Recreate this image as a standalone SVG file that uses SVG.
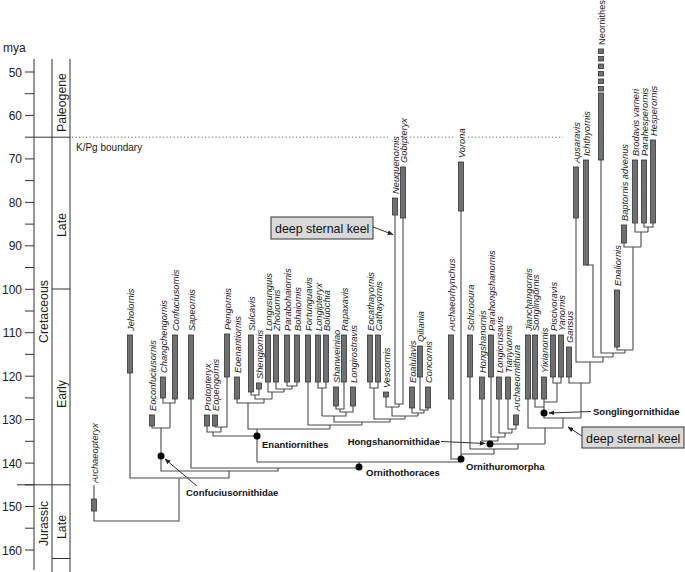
<svg xmlns="http://www.w3.org/2000/svg" width="685" height="572" viewBox="0 0 685 572">
<defs>
<style>
.ax{stroke:#333;stroke-width:1;fill:none}
.tk{font-family:"Liberation Sans",Arial,sans-serif;font-size:12px;fill:#222;text-anchor:end}
.per{font-family:"Liberation Sans",Arial,sans-serif;font-size:12.3px;fill:#222;text-anchor:middle}
.ln{stroke:#4a4a4a;stroke-width:1.1;fill:none}
.bar{fill:#707070;stroke:#333;stroke-width:0.8}
.lab{font-family:"Liberation Sans",Arial,sans-serif;font-size:9.3px;font-style:italic;fill:#222}
.labn{font-family:"Liberation Sans",Arial,sans-serif;font-size:9.3px;fill:#222}
.cl{font-family:"Liberation Sans",Arial,sans-serif;font-size:9.5px;font-weight:bold;fill:#111}
.dot{fill:#000}
.box{fill:#d9d9d9;stroke:#333;stroke-width:1}
.boxt{font-family:"Liberation Sans",Arial,sans-serif;font-size:12.4px;fill:#111}
.arr{stroke:#333;stroke-width:1;fill:none;marker-end:url(#ah)}
</style>
<marker id="ah" viewBox="0 0 10 10" refX="9" refY="5" markerWidth="6" markerHeight="6" markerUnits="userSpaceOnUse" orient="auto"><path d="M0,1 L10,5 L0,9 Z" fill="#222"/></marker>
</defs>
<rect width="685" height="572" fill="#fff"/>
<g id="axis">
<text x="3" y="52" style="font-family:'Liberation Sans',Arial,sans-serif;font-size:12px;fill:#222">mya</text>
<path class="ax" d="M34 59 V570 M52 59 V572 M70 59 V572 M34 137.2 H70 M17 484.8 H70 M52 289 H70 M52 558.5 H70"/>
<path class="ax" d="M25 72 H34 M25 93.7 H34 M25 115.4 H34 M25 137.2 H34 M25 158.9 H34 M25 180.6 H34 M25 202.4 H34 M25 224.1 H34 M25 245.8 H34 M25 267.5 H34 M25 289.3 H34 M25 311 H34 M25 332.7 H34 M25 354.4 H34 M25 376.2 H34 M25 397.9 H34 M25 419.6 H34 M25 441.3 H34 M25 463.1 H34 M25 484.8 H34 M25 506.5 H34 M25 528.2 H34 M25 550 H34"/>
<text class="tk" x="22" y="76.5">50</text>
<text class="tk" x="22" y="119.9">60</text>
<text class="tk" x="22" y="163.4">70</text>
<text class="tk" x="22" y="206.9">80</text>
<text class="tk" x="22" y="250.3">90</text>
<text class="tk" x="22" y="293.8">100</text>
<text class="tk" x="22" y="337.2">110</text>
<text class="tk" x="22" y="380.7">120</text>
<text class="tk" x="22" y="424.1">130</text>
<text class="tk" x="22" y="467.6">140</text>
<text class="tk" x="22" y="511">150</text>
<text class="tk" x="22" y="554.5">160</text>
<text class="per" transform="translate(65.5,102.5) rotate(-90)">Paleogene</text>
<text class="per" transform="translate(65.5,225) rotate(-90)">Late</text>
<text class="per" transform="translate(47.5,311.5) rotate(-90)">Cretaceous</text>
<text class="per" transform="translate(65.5,394) rotate(-90)">Early</text>
<text class="per" transform="translate(47.5,523.5) rotate(-90)">Jurassic</text>
<text class="per" transform="translate(65.5,527) rotate(-90)">Late</text>
<path d="M72 137.2 H388 M410 137.2 H455 M468 137.2 H563" stroke="#666" stroke-width="1" stroke-dasharray="1.2 2.3" fill="none"/>
<text x="76" y="151" style="font-family:'Liberation Sans',Arial,sans-serif;font-size:10px;fill:#222">K/Pg boundary</text>
</g>
<g id="connectors">
<path class="ln" d="M94 485 V499 M94 511 V521 H179 V478 M130 373 V478 H229 V471 M152 426 V428 H170 M163 398 V403 H175 V399 M170 403 V428 M161 428 V471 H278 V468 M191 399 V468 H359 V462 M257 462 H461"/>
<path class="ln" d="M257 429 V462 M213 436 H257 M207 426 V432 H221 M215 426 V427 H227 V377 M221 427 V432 M213 432 V436"/>
<path class="ln" d="M251 392 V395 H259 V389 M255 395 V399 H272 M287 382 V386 H297 V382 M292 386 V389 M276 382 V389 H292 M284 389 V392 M268 382 V392 H284 M272 392 V399 M264 399 V403 M237 399 V403 H264 M248 403 V429 H330"/>
<path class="ln" d="M318 382 V388 H326 V382 M322 388 V416 M336 406 V409 H344 V382 M340 409 V412 M353 406 V412 H340 M346 412 V416 H322 M334 416 V422 H390 M370 382 V388 H378 V382 M374 388 V419 H405 M395 215 V404 H403 V218 M399 404 V407 M386 397 V407 H399 M392 407 V416 H418 M420 377 V410 H428 V408 M424 410 V413 M412 408 V413 H424 M418 413 V416 M405 416 V419 M390 419 V422 M362 422 V425 M308 382 V425 H362 M330 425 V429"/>
<path class="ln" d="M451 399 V459 H461 M461 211 V462 M461 454 H494 M470 377 V449 H518 M494 449 V454 M482 399 V441 H498 M491 377 V437 H505 M499 399 V433 H512 M508 399 V429 H516 V425 M512 429 V433 M505 433 V437 M498 437 V441 M490 441 V444 H545 M518 444 V449 M528 399 V428 H563 M545 428 V444"/>
<path class="ln" d="M553 377 V383 H561 V377 M557 383 V402 H544 M544 399 V418 H581 M535 399 V407 H544 M563 418 V428 M569 377 V383 H590 M581 383 V418 M576 218 V362 H603 M590 362 V383 M586 265 H593 V357 H613 M603 357 V362 M601 160 V353 H625 M613 353 V357 M617 347 V350 H633 M625 350 V353 M624 243 V247 H641 M633 247 V350 M635 223 V232 H648 M641 232 V247 M644 223 V227 H653 V223 M648 227 V232"/>
<path class="arr" d="M197 486 L165 459"/>
<path class="arr" d="M441 441.5 L485 443.5"/>
<path class="arr" d="M591 411.5 L549 413"/>
<path class="arr" d="M373 227 L393 234.5"/>
<path class="arr" d="M582 436 L568 427"/>
</g>
<g id="n-confuciusornithidae"><circle class="dot" cx="161" cy="456" r="3.5"/><text class="cl" x="186" y="496">Confuciusornithidae</text></g>
<g id="n-enantiornithes"><circle class="dot" cx="257" cy="436" r="3.5"/><text class="cl" x="262" y="447.5">Enantiornithes</text></g>
<g id="n-ornithothoraces"><circle class="dot" cx="359" cy="467" r="3.5"/><text class="cl" x="366" y="476">Ornithothoraces</text></g>
<g id="n-ornithuromorpha"><circle class="dot" cx="461" cy="459" r="3.5"/><text class="cl" x="466" y="470">Ornithuromorpha</text></g>
<g id="n-hongshanornithidae"><circle class="dot" cx="490" cy="444" r="3.5"/><text class="cl" x="440" y="444.5" text-anchor="end">Hongshanornithidae</text></g>
<g id="n-songlingornithidae"><circle class="dot" cx="544" cy="413" r="3.5"/><text class="cl" x="593" y="414.5">Songlingornithidae</text></g>
<g id="box-keel-1"><rect class="box" x="271" y="217" width="102" height="22"/><text class="boxt" x="275" y="233">deep sternal keel</text></g>
<g id="box-keel-2"><rect class="box" x="582" y="427" width="102" height="21"/><text class="boxt" x="586" y="442.5">deep sternal keel</text></g>
<g id="taxa">
<g id="t-archaeopteryx"><rect class="bar" x="91.5" y="499" width="5" height="12"/><text class="lab" transform="translate(97.5,483) rotate(-90)">Archaeopteryx</text></g>
<g id="t-jeholornis"><rect class="bar" x="127.5" y="335" width="5" height="38"/><text class="lab" transform="translate(133.5,331) rotate(-90)">Jeholornis</text></g>
<g id="t-eoconfuciusornis"><rect class="bar" x="149.5" y="415" width="5" height="11"/><text class="lab" transform="translate(155.5,411) rotate(-90)">Eoconfuciusornis</text></g>
<g id="t-changchengornis"><rect class="bar" x="160.5" y="377" width="5" height="21"/><text class="lab" transform="translate(166.5,373) rotate(-90)">Changchengornis</text></g>
<g id="t-confuciusornis"><rect class="bar" x="172.5" y="335" width="5" height="64"/><text class="lab" transform="translate(178.5,331) rotate(-90)">Confuciusornis</text></g>
<g id="t-sapeornis"><rect class="bar" x="188.5" y="335" width="5" height="64"/><text class="lab" transform="translate(194.5,331) rotate(-90)">Sapeornis</text></g>
<g id="t-protopteryx"><rect class="bar" x="204.5" y="415" width="5" height="11"/><text class="lab" transform="translate(210.5,411) rotate(-90)">Protopteryx</text></g>
<g id="t-eopengornis"><rect class="bar" x="212.5" y="415" width="5" height="11"/><text class="lab" transform="translate(218.5,411) rotate(-90)">Eopengornis</text></g>
<g id="t-pengornis"><rect class="bar" x="224.5" y="334" width="5" height="43"/><text class="lab" transform="translate(230.5,330) rotate(-90)">Pengornis</text></g>
<g id="t-eoenantiornis"><rect class="bar" x="234.5" y="377" width="5" height="22"/><text class="lab" transform="translate(240.5,373) rotate(-90)">Eoenantiornis</text></g>
<g id="t-sulcavis"><rect class="bar" x="248.5" y="335" width="5" height="57"/><text class="lab" transform="translate(254.5,331) rotate(-90)">Sulcavis</text></g>
<g id="t-shengiornis"><rect class="bar" x="256.5" y="383" width="5" height="6"/><text class="lab" transform="translate(262.5,379) rotate(-90)">Shengiornis</text></g>
<g id="t-longusunguis"><rect class="bar" x="265.5" y="335" width="5" height="47"/><text class="lab" transform="translate(271.5,331) rotate(-90)">Longusunguis</text></g>
<g id="t-zhouornis"><rect class="bar" x="273.5" y="335" width="5" height="47"/><text class="lab" transform="translate(279.5,331) rotate(-90)">Zhouornis</text></g>
<g id="t-parabohaiornis"><rect class="bar" x="284.5" y="335" width="5" height="47"/><text class="lab" transform="translate(290.5,331) rotate(-90)">Parabohaiornis</text></g>
<g id="t-bohaiornis"><rect class="bar" x="294.5" y="335" width="5" height="47"/><text class="lab" transform="translate(300.5,331) rotate(-90)">Bohaiornis</text></g>
<g id="t-fortunguavis"><rect class="bar" x="305.5" y="335" width="5" height="47"/><text class="lab" transform="translate(311.5,331) rotate(-90)">Fortunguavis</text></g>
<g id="t-longipteryx"><rect class="bar" x="315.5" y="335" width="5" height="47"/><text class="lab" transform="translate(321.5,331) rotate(-90)">Longipteryx</text></g>
<g id="t-boluochia"><rect class="bar" x="323.5" y="335" width="5" height="47"/><text class="lab" transform="translate(329.5,331) rotate(-90)">Boluochia</text></g>
<g id="t-shanweiniao"><rect class="bar" x="333.5" y="387" width="5" height="19"/><text class="lab" transform="translate(339.5,383) rotate(-90)">Shanweiniao</text></g>
<g id="t-rapaxavis"><rect class="bar" x="341.5" y="335" width="5" height="47"/><text class="lab" transform="translate(347.5,331) rotate(-90)">Rapaxavis</text></g>
<g id="t-longirostravis"><rect class="bar" x="350.5" y="387" width="5" height="19"/><text class="lab" transform="translate(356.5,383) rotate(-90)">Longirostravis</text></g>
<g id="t-eocathayornis"><rect class="bar" x="367.5" y="335" width="5" height="47"/><text class="lab" transform="translate(373.5,331) rotate(-90)">Eocathayornis</text></g>
<g id="t-cathayornis"><rect class="bar" x="375.5" y="335" width="5" height="47"/><text class="lab" transform="translate(381.5,331) rotate(-90)">Cathayornis</text></g>
<g id="t-vescornis"><rect class="bar" x="383.5" y="392" width="5" height="5"/><text class="lab" transform="translate(389.5,388) rotate(-90)">Vescornis</text></g>
<g id="t-neuquenornis"><rect class="bar" x="392.5" y="198" width="5" height="17"/><text class="lab" transform="translate(398.5,194) rotate(-90)">Neuquenornis</text></g>
<g id="t-gobipteryx"><rect class="bar" x="400.5" y="167" width="5" height="51"/><text class="lab" transform="translate(406.5,163) rotate(-90)">Gobipteryx</text></g>
<g id="t-eoalulavis"><rect class="bar" x="409.5" y="387" width="5" height="21"/><text class="lab" transform="translate(415.5,383) rotate(-90)">Eoalulavis</text></g>
<g id="t-qiliania"><rect class="bar" x="417.5" y="346" width="5" height="31"/><text class="lab" transform="translate(423.5,342) rotate(-90)">Qiliania</text></g>
<g id="t-concornis"><rect class="bar" x="425.5" y="387" width="5" height="21"/><text class="lab" transform="translate(431.5,383) rotate(-90)">Concornis</text></g>
<g id="t-archaeorhynchus"><rect class="bar" x="448.5" y="335" width="5" height="64"/><text class="lab" transform="translate(454.5,331) rotate(-90)">Archaeorhynchus</text></g>
<g id="t-vorona"><rect class="bar" x="458.5" y="162" width="5" height="49"/><text class="lab" transform="translate(464.5,158) rotate(-90)">Vorona</text></g>
<g id="t-schizooura"><rect class="bar" x="467.5" y="335" width="5" height="42"/><text class="lab" transform="translate(473.5,331) rotate(-90)">Schizooura</text></g>
<g id="t-hongshanornis"><rect class="bar" x="479.5" y="377" width="5" height="22"/><text class="lab" transform="translate(485.5,373) rotate(-90)">Hongshanornis</text></g>
<g id="t-parahongshanornis"><rect class="bar" x="488.5" y="335" width="5" height="42"/><text class="lab" transform="translate(494.5,331) rotate(-90)">Parahongshanornis</text></g>
<g id="t-longicrusavis"><rect class="bar" x="496.5" y="377" width="5" height="22"/><text class="lab" transform="translate(502.5,373) rotate(-90)">Longicrusavis</text></g>
<g id="t-tianyuornis"><rect class="bar" x="505.5" y="377" width="5" height="22"/><text class="lab" transform="translate(511.5,373) rotate(-90)">Tianyuornis</text></g>
<g id="t-archaeornithura"><rect class="bar" x="513.5" y="415" width="5" height="10"/><text class="lab" transform="translate(519.5,411) rotate(-90)">Archaeornithura</text></g>
<g id="t-jianchangornis"><rect class="bar" x="525.5" y="335" width="5" height="64"/><text class="lab" transform="translate(531.5,331) rotate(-90)">Jianchangornis</text></g>
<g id="t-songlingornis"><rect class="bar" x="532.5" y="335" width="5" height="64"/><text class="lab" transform="translate(538.5,331) rotate(-90)">Songlingornis</text></g>
<g id="t-yixianornis"><rect class="bar" x="541.5" y="377" width="5" height="22"/><text class="lab" transform="translate(547.5,373) rotate(-90)">Yixianornis</text></g>
<g id="t-piscivoravis"><rect class="bar" x="550.5" y="335" width="5" height="42"/><text class="lab" transform="translate(556.5,331) rotate(-90)">Piscivoravis</text></g>
<g id="t-yanornis"><rect class="bar" x="558.5" y="335" width="5" height="42"/><text class="lab" transform="translate(564.5,331) rotate(-90)">Yanornis</text></g>
<g id="t-gansus"><rect class="bar" x="566.5" y="347" width="5" height="30"/><text class="lab" transform="translate(572.5,343) rotate(-90)">Gansus</text></g>
<g id="t-apsaravis"><rect class="bar" x="573.5" y="167" width="5" height="51"/><text class="lab" transform="translate(579.5,163) rotate(-90)">Apsaravis</text></g>
<g id="t-ichthyornis"><rect class="bar" x="583.5" y="160" width="5" height="105"/><text class="lab" transform="translate(589.5,156) rotate(-90)">Ichthyornis</text></g>
<g id="t-neornithes"><rect class="bar" x="598.5" y="93" width="5" height="67"/><rect class="bar" x="598.5" y="49" width="5" height="4.5"/><rect class="bar" x="598.5" y="56.5" width="5" height="4.5"/><rect class="bar" x="598.5" y="64" width="5" height="4.5"/><rect class="bar" x="598.5" y="71.5" width="5" height="4.5"/><rect class="bar" x="598.5" y="79" width="5" height="4.5"/><rect class="bar" x="598.5" y="86.5" width="5" height="4.5"/><text class="labn" transform="translate(604.5,45) rotate(-90)">Neornithes</text></g>
<g id="t-enaliornis"><rect class="bar" x="614.5" y="290" width="5" height="57"/><text class="lab" transform="translate(620.5,286) rotate(-90)">Enaliornis</text></g>
<g id="t-baptornis"><rect class="bar" x="621.5" y="225" width="5" height="18"/><text class="lab" transform="translate(627.5,221) rotate(-90)">Baptornis advenus</text></g>
<g id="t-brodavis"><rect class="bar" x="632.5" y="160" width="5" height="63"/><text class="lab" transform="translate(638.5,156) rotate(-90)">Brodavis varneri</text></g>
<g id="t-parahesperornis"><rect class="bar" x="641.5" y="160" width="5" height="63"/><text class="lab" transform="translate(647.5,156) rotate(-90)">Parahesperornis</text></g>
<g id="t-hesperornis"><rect class="bar" x="650.5" y="140" width="5" height="83"/><text class="lab" transform="translate(656.5,136) rotate(-90)">Hesperornis</text></g>
</g>
</svg>
